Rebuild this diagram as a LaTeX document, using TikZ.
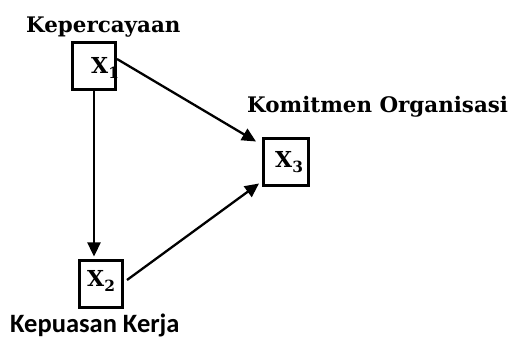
\documentclass[tikz,border=0pt]{standalone}
\usepackage{fontspec}
\setmainfont{DejaVu Serif}
\newfontfamily\calib{Carlito}
\usetikzlibrary{arrows.meta,calc}
\tikzset{
  box/.style={draw, line width=3pt, minimum width=43pt, minimum height=47pt, inner sep=0pt},
  lbl/.style={anchor=base west, inner sep=0pt, font=\fontsize{21.4}{26}\selectfont\bfseries},
  xlbl/.style={anchor=base west, inner sep=0pt, font=\fontsize{22}{26}\selectfont\bfseries},
  arr/.style={line width=2.3pt, -{Triangle[length=14pt,width=13pt]}}
}
\begin{document}
\begin{tikzpicture}[x=1pt,y=-1pt]
\useasboundingbox (0,0) rectangle (511,344);
\node[box] (x1) at (94,66) {};
\node[box] (x2) at (101,284.5) {};
\node[box, minimum width=45pt] (x3) at (286,162.5) {};
\node[xlbl] (t1) at (91,74) {X\textsubscript{1}};
\node[xlbl] (t2) at (87,287) {X\textsubscript{2}};
\node[xlbl] (t3) at (275,168) {X\textsubscript{3}};
\node[lbl] (l1) at (26,33) {Kepercayaan};
\node[lbl] (l3) at (247,113) {Komitmen Organisasi};
\node[anchor=base west, inner sep=0pt, font=\calib\fontsize{26.5}{30}\selectfont\bfseries] (l2) at (10,333) {Kepuasan Kerja};
\draw[arr, shorten >=3pt] (x1.south) -- (x1.south |- x2.north);
\draw[arr] ($(x1.east)+(0,-7)$) -- ($(x3.north west)+(-6,4)$);
\draw[arr] ($(x2.east)+(3,-4.5)$) -- ($(x3.south west)+(-3,-4)$);
\end{tikzpicture}
\end{document}
